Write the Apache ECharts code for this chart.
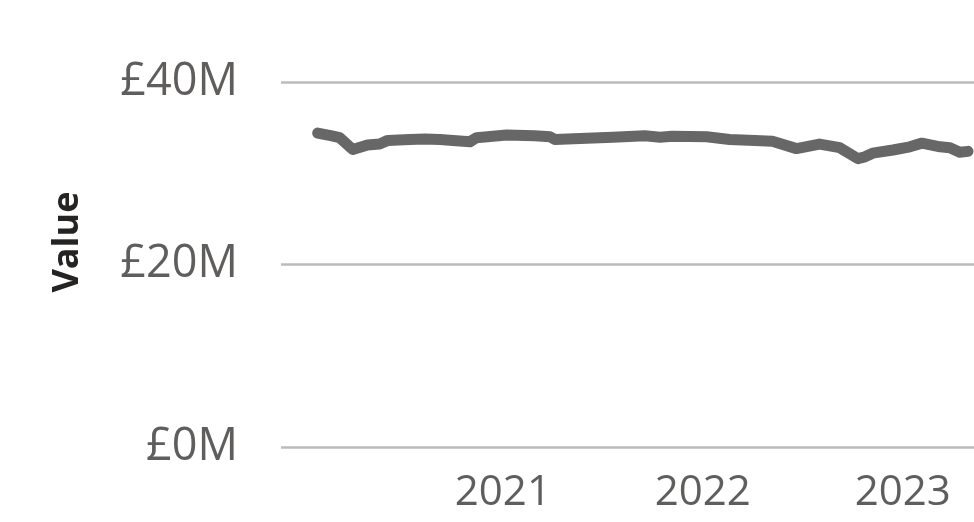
<!DOCTYPE html>
<html>
<head>
<meta charset="utf-8">
<script src="https://cdn.jsdelivr.net/npm/echarts@6/dist/echarts.min.js"></script>
<style>
html,body{margin:0;padding:0;background:#fff;}
#chart{width:974px;height:522px;}
</style>
</head>
<body>
<div id="chart"></div>
<script>
// Data (values in £M)
var dates = [
  '2020-01-29','2020-02-24','2020-03-09','2020-04-02','2020-04-29','2020-05-21','2020-06-05',
  '2020-07-15','2020-08-12','2020-09-08','2020-10-02','2020-11-02','2020-11-14',
  '2021-01-08','2021-02-28','2021-03-28','2021-04-06','2021-05-22','2021-07-21',
  '2021-09-17','2021-10-15','2021-11-06','2022-01-08','2022-02-19','2022-04-06',
  '2022-05-08','2022-06-21','2022-08-02','2022-09-08','2022-10-11','2022-10-24',
  '2022-11-07','2022-12-14','2023-01-14','2023-02-05','2023-03-10','2023-03-28',
  '2023-04-15','2023-04-30'
];
var values = [
  34.4, 34.1, 33.9, 32.6, 33.1, 33.2, 33.6,
  33.7, 33.75, 33.7, 33.6, 33.45, 33.9,
  34.2, 34.1, 34.0, 33.7, 33.8, 33.95,
  34.1, 33.95, 34.05, 34.0, 33.7, 33.6,
  33.5, 32.7, 33.2, 32.8, 31.6, 31.8,
  32.2, 32.55, 32.9, 33.3, 32.9, 32.8,
  32.3, 32.4
];
var xTickLabels = ['2021-01-01', '2022-01-01', '2023-01-01'];
var yTicks = [0, 20, 40];
var xRange = ['2019-11-23', '2023-05-11'];

var seriesData = dates.map(function (d, i) { return [d, values[i]]; });

var chart = echarts.init(document.getElementById('chart'), null, {renderer: 'canvas'});
chart.setOption({
  animation: false,
  backgroundColor: '#ffffff',
  grid: {left: 281, right: 0, top: 82, bottom: 75, containLabel: false},
  xAxis: {
    type: 'time',
    min: xRange[0],
    max: xRange[1],
    axisLine: {show: false},
    axisTick: {show: false},
    splitLine: {show: false},
    axisLabel: {
      customValues: xTickLabels,
      formatter: '{yyyy}',
      color: '#605E5C',
      fontFamily: 'Open Sans',
      fontSize: 42,
      margin: 25,
      hideOverlap: false
    }
  },
  yAxis: {
    type: 'value',
    min: yTicks[0],
    max: yTicks[yTicks.length - 1],
    interval: 20,
    name: 'Value',
    nameLocation: 'middle',
    nameGap: 195,
    nameTextStyle: {
      color: '#252423',
      fontFamily: 'Open Sans',
      fontWeight: 'bold',
      fontSize: 36,
      padding: [0, 0, 0, 45]
    },
    axisLine: {show: false},
    axisTick: {show: false},
    splitLine: {lineStyle: {color: '#BBBBBB', width: 2.5}},
    axisLabel: {
      color: '#605E5C',
      fontFamily: 'Open Sans',
      fontSize: 45,
      margin: 43,
      formatter: function (v) { return '£' + v + 'M'; }
    }
  },
  series: [{
    type: 'line',
    data: seriesData,
    showSymbol: false,
    smooth: false,
    lineStyle: {color: '#676767', width: 11, cap: 'round', join: 'round'},
    itemStyle: {color: '#676767'}
  }]
});
</script>
</body>
</html>
